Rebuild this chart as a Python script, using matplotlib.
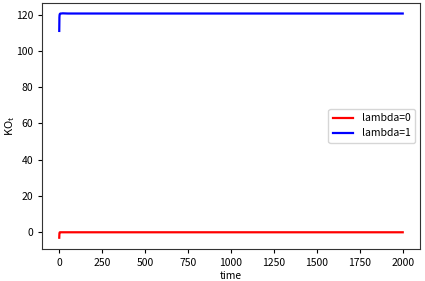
import matplotlib
matplotlib.use("Agg")
import matplotlib.pyplot as plt

plt.rcParams['font.family'] = ['Noto Sans CJK SC', 'DejaVu Sans']
plt.rcParams['axes.unicode_minus'] = False

time = [0, 1, 2, 3, 4, 5, 8, 12, 20, 50, 100, 200, 500, 1000, 1500, 2000]
ko_lambda0 = [-3.0, -0.8, -0.2, -0.05, 0.0, 0.0, 0.0, 0.0, 0.0, 0.0, 0.0, 0.0, 0.0, 0.0, 0.0, 0.0]
ko_lambda1 = [111.0, 118.5, 119.8, 120.2, 120.4, 120.5, 120.6, 120.6, 120.7, 120.6, 120.6, 120.6, 120.6, 120.6, 120.6, 120.6]

fig = plt.figure(figsize=(4.25, 2.81), dpi=100)
ax = fig.add_axes([0.099, 0.114, 0.889, 0.876])
ax.plot(time, ko_lambda0, color='red', lw=1.6, label='lambda=0')
ax.plot(time, ko_lambda1, color='blue', lw=1.6, label='lambda=1')
ax.set_xlim(-100, 2100)
ax.set_ylim(-9.2, 126.5)
ax.set_xticks([0, 250, 500, 750, 1000, 1250, 1500, 1750, 2000])
ax.set_yticks([0, 20, 40, 60, 80, 100, 120])
for s in ax.spines.values():
    s.set_color('#333333')
ax.tick_params(labelsize=7.5, length=3, width=0.8)
ax.set_xlabel('time', fontsize=7.5, labelpad=2)
ax.set_ylabel(r'$\mathregular{KO_t}$', fontsize=8)
ax.yaxis.set_label_coords(-0.066, 0.5)
ax.legend(loc='center right', fontsize=7.5, framealpha=0.8)
fig.savefig('out.png', dpi=100)
